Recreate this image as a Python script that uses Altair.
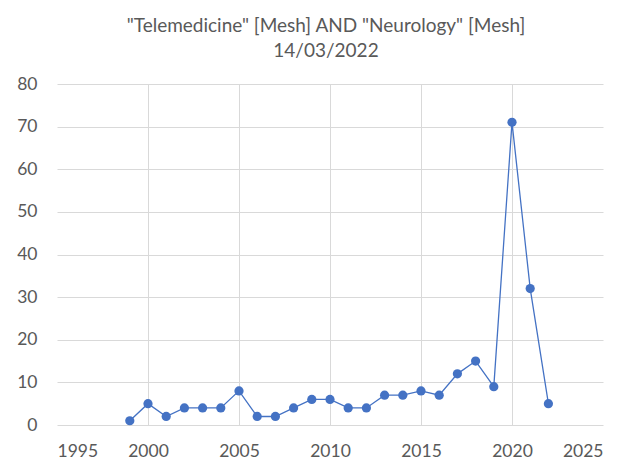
import altair as alt
import pandas as pd

years = [1999, 2000, 2001, 2002, 2003, 2004, 2005, 2006, 2007, 2008, 2009, 2010,
         2011, 2012, 2013, 2014, 2015, 2016, 2017, 2018, 2019, 2020, 2021, 2022]
counts = [1, 5, 2, 4, 4, 4, 8, 2, 2, 4, 6, 6,
          4, 4, 7, 7, 8, 7, 12, 15, 9, 71, 32, 5]
x_ticks = [1995, 2000, 2005, 2010, 2015, 2020, 2025]
y_ticks = [0, 10, 20, 30, 40, 50, 60, 70, 80]

df = pd.DataFrame({"year": years, "count": counts})

FONT = "Lato"
GRAY = "#595959"
BLUE = "#4472C4"

x = alt.X("year:Q",
          scale=alt.Scale(domain=[1995, 2025], nice=False, zero=False),
          axis=alt.Axis(values=x_ticks, format="d", title=None, domain=False, ticks=False,
                        labelPadding=17, labelFontSize=17.5, labelColor=GRAY, labelFont=FONT,
                        gridColor="#d9d9d9",
                        gridOpacity={"condition": {"test": "datum.value == 1995 || datum.value == 2025", "value": 0}, "value": 1}))
y = alt.Y("count:Q",
          scale=alt.Scale(domain=[0, 80], nice=False),
          axis=alt.Axis(values=y_ticks, title=None, domain=False, ticks=False,
                        labelPadding=20, labelFontSize=17.5, labelColor=GRAY, labelFont=FONT,
                        gridColor="#d9d9d9"))

base = alt.Chart(df)
line = base.mark_line(color=BLUE, strokeWidth=1.3).encode(x=x, y=y)
pts = base.mark_circle(color=BLUE, size=85, opacity=1).encode(x=x, y=y)

chart = (line + pts).properties(
    width=546, height=341,
    autosize=alt.AutoSizeParams(type="none"),
    padding={"left": 49, "top": 76, "right": 22, "bottom": 36},
    title=alt.TitleParams(
        text=['"Telemedicine" [Mesh] AND "Neurology" [Mesh]', "14/03/2022"],
        font=FONT, fontSize=19, fontWeight="normal", color=GRAY,
        anchor="middle", offset=14, lineHeight=25, dx=-4),
).configure_view(stroke=None)

chart.save("out.html", embed_options={"renderer": "svg", "actions": False})
